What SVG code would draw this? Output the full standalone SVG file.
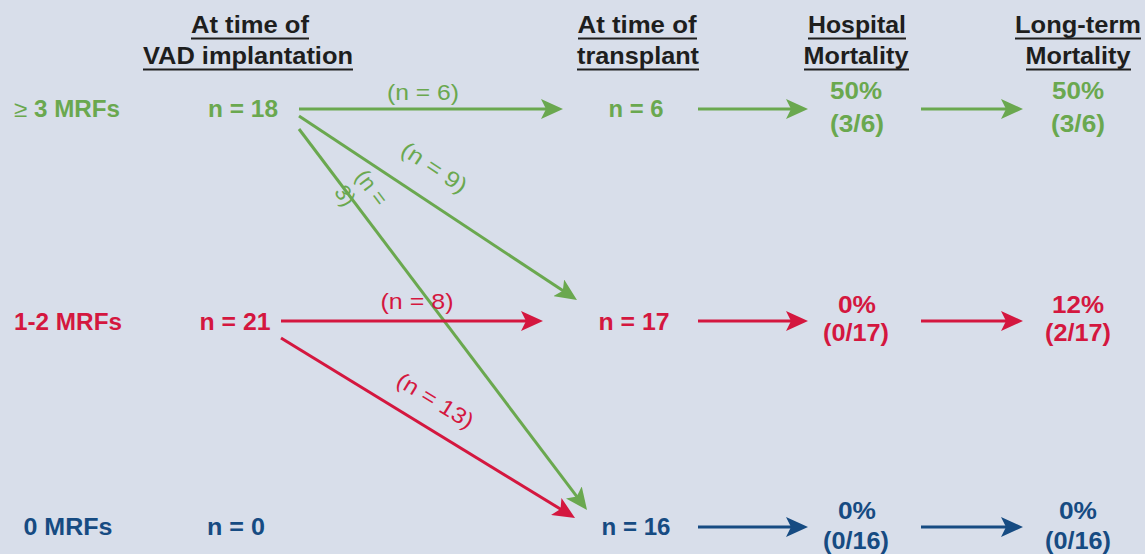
<svg xmlns="http://www.w3.org/2000/svg" width="1145" height="554" viewBox="0 0 1145 554">
  <style>
    text { font-family: "Liberation Sans", Arial, sans-serif; }
    .hdr { font-size: 24px; font-weight: bold; fill: #1e1e1e; text-anchor: middle; }
    .ul { stroke: #1e1e1e; stroke-width: 2; }
    .v { font-size: 23px; font-weight: bold; text-anchor: middle; }
    .lbl { font-size: 22px; text-anchor: middle; }
    .g { fill: #6aa84f; }
    .r { fill: #d4173f; }
    .b { fill: #164b82; }
    .lg { stroke: #6aa84f; stroke-width: 3; fill: none; marker-end: url(#ahG); }
    .lr { stroke: #d4173f; stroke-width: 3; fill: none; marker-end: url(#ahR); }
    .lb { stroke: #164b82; stroke-width: 3; fill: none; marker-end: url(#ahB); }
  </style>
  <defs>
    <marker id="ahG" markerUnits="userSpaceOnUse" markerWidth="24" markerHeight="20" refX="14" refY="10" orient="auto">
      <path d="M0,0 L22,10 L0,20 L5,10 z" fill="#6aa84f"/>
    </marker>
    <marker id="ahR" markerUnits="userSpaceOnUse" markerWidth="24" markerHeight="20" refX="14" refY="10" orient="auto">
      <path d="M0,0 L22,10 L0,20 L5,10 z" fill="#d4173f"/>
    </marker>
    <marker id="ahB" markerUnits="userSpaceOnUse" markerWidth="24" markerHeight="20" refX="14" refY="10" orient="auto">
      <path d="M0,0 L22,10 L0,20 L5,10 z" fill="#164b82"/>
    </marker>
  </defs>

  <rect width="1145" height="554" fill="#d8deea"/>

  <!-- column headers -->
  <g id="hdr-vad">
    <text class="hdr" x="250" y="33" textLength="118" lengthAdjust="spacingAndGlyphs">At time of</text>
    <line class="ul" x1="191" y1="38.5" x2="309" y2="38.5"/>
    <text class="hdr" x="248" y="64" textLength="210" lengthAdjust="spacingAndGlyphs">VAD implantation</text>
    <line class="ul" x1="143" y1="69.5" x2="353" y2="69.5"/>
  </g>
  <g id="hdr-tx">
    <text class="hdr" x="637" y="33" textLength="119" lengthAdjust="spacingAndGlyphs">At time of</text>
    <line class="ul" x1="578" y1="38.5" x2="697" y2="38.5"/>
    <text class="hdr" x="638" y="64" textLength="122" lengthAdjust="spacingAndGlyphs">transplant</text>
    <line class="ul" x1="577" y1="69.5" x2="699" y2="69.5"/>
  </g>
  <g id="hdr-hosp">
    <text class="hdr" x="857" y="33" textLength="98" lengthAdjust="spacingAndGlyphs">Hospital</text>
    <line class="ul" x1="808" y1="38.5" x2="906" y2="38.5"/>
    <text class="hdr" x="856" y="64" textLength="105" lengthAdjust="spacingAndGlyphs">Mortality</text>
    <line class="ul" x1="804" y1="69.5" x2="909" y2="69.5"/>
  </g>
  <g id="hdr-long">
    <text class="hdr" x="1078" y="33" textLength="126" lengthAdjust="spacingAndGlyphs">Long-term</text>
    <line class="ul" x1="1015" y1="38.5" x2="1141" y2="38.5"/>
    <text class="hdr" x="1078" y="64" textLength="105" lengthAdjust="spacingAndGlyphs">Mortality</text>
    <line class="ul" x1="1026" y1="69.5" x2="1131" y2="69.5"/>
  </g>

  <!-- row labels -->
  <g id="row-3plus">
    <text class="v g" x="67" y="117" textLength="106" lengthAdjust="spacingAndGlyphs"><tspan font-weight="normal">≥</tspan> 3 MRFs</text>
  </g>
  <g id="row-12">
    <text class="v r" x="68" y="330" textLength="108" lengthAdjust="spacingAndGlyphs">1-2 MRFs</text>
  </g>
  <g id="row-0">
    <text class="v b" x="68" y="535" textLength="89" lengthAdjust="spacingAndGlyphs">0 MRFs</text>
  </g>

  <!-- VAD implantation counts -->
  <g id="vad-3plus"><text class="v g" x="243" y="117" textLength="70" lengthAdjust="spacingAndGlyphs">n = 18</text></g>
  <g id="vad-12"><text class="v r" x="235" y="330" textLength="71" lengthAdjust="spacingAndGlyphs">n = 21</text></g>
  <g id="vad-0"><text class="v b" x="236" y="535" textLength="58" lengthAdjust="spacingAndGlyphs">n = 0</text></g>

  <!-- transplant counts -->
  <g id="tx-3plus"><text class="v g" x="636" y="117" textLength="55" lengthAdjust="spacingAndGlyphs">n = 6</text></g>
  <g id="tx-12"><text class="v r" x="634" y="330" textLength="71" lengthAdjust="spacingAndGlyphs">n = 17</text></g>
  <g id="tx-0"><text class="v b" x="636" y="535" textLength="69" lengthAdjust="spacingAndGlyphs">n = 16</text></g>

  <!-- hospital mortality -->
  <g id="hosp-3plus">
    <text class="v g" x="856" y="99" textLength="52" lengthAdjust="spacingAndGlyphs">50%</text>
    <text class="v g" x="857" y="132" textLength="54" lengthAdjust="spacingAndGlyphs">(3/6)</text>
  </g>
  <g id="hosp-12">
    <text class="v r" x="857" y="313" textLength="38" lengthAdjust="spacingAndGlyphs">0%</text>
    <text class="v r" x="856" y="341" textLength="66" lengthAdjust="spacingAndGlyphs">(0/17)</text>
  </g>
  <g id="hosp-0">
    <text class="v b" x="857" y="519" textLength="38" lengthAdjust="spacingAndGlyphs">0%</text>
    <text class="v b" x="856" y="549" textLength="66" lengthAdjust="spacingAndGlyphs">(0/16)</text>
  </g>

  <!-- long-term mortality -->
  <g id="long-3plus">
    <text class="v g" x="1078" y="99" textLength="52" lengthAdjust="spacingAndGlyphs">50%</text>
    <text class="v g" x="1078" y="132" textLength="54" lengthAdjust="spacingAndGlyphs">(3/6)</text>
  </g>
  <g id="long-12">
    <text class="v r" x="1078" y="313" textLength="52" lengthAdjust="spacingAndGlyphs">12%</text>
    <text class="v r" x="1078" y="341" textLength="66" lengthAdjust="spacingAndGlyphs">(2/17)</text>
  </g>
  <g id="long-0">
    <text class="v b" x="1078" y="519" textLength="38" lengthAdjust="spacingAndGlyphs">0%</text>
    <text class="v b" x="1078" y="549" textLength="66" lengthAdjust="spacingAndGlyphs">(0/16)</text>
  </g>

  <!-- connectors -->
  <g id="connectors">
    <line class="lg" x1="299" y1="109" x2="555" y2="109"/>
    <line class="lg" x1="299" y1="116" x2="570.3" y2="295.6"/>
    <line class="lg" x1="299" y1="129" x2="582.2" y2="503.6"/>
    <line class="lr" x1="281" y1="321" x2="535" y2="321"/>
    <line class="lr" x1="281" y1="338" x2="568.2" y2="513.8"/>

    <line class="lg" x1="698" y1="109" x2="800" y2="109"/>
    <line class="lg" x1="921" y1="109" x2="1015" y2="109"/>
    <line class="lr" x1="698" y1="321" x2="800" y2="321"/>
    <line class="lr" x1="921" y1="321" x2="1015" y2="321"/>
    <line class="lb" x1="698" y1="527" x2="800" y2="527"/>
    <line class="lb" x1="921" y1="527" x2="1015" y2="527"/>

    <!-- flow counts -->
    <text class="lbl g" x="423" y="100" textLength="72" lengthAdjust="spacingAndGlyphs">(n = 6)</text>
    <text class="lbl g" transform="translate(434,168) rotate(33.4)" x="0" y="7" textLength="74" lengthAdjust="spacingAndGlyphs">(n = 9)</text>
    <g class="g" transform="translate(373,190) rotate(53)">
      <text font-size="22" x="-22" y="7">(n =</text>
      <text font-size="22" x="-22" y="33">3)</text>
    </g>
    <text class="lbl r" x="417" y="309" textLength="73" lengthAdjust="spacingAndGlyphs">(n = 8)</text>
    <text class="lbl r" transform="translate(435,401) rotate(31.5)" x="0" y="7" textLength="86" lengthAdjust="spacingAndGlyphs">(n = 13)</text>
  </g>
</svg>
